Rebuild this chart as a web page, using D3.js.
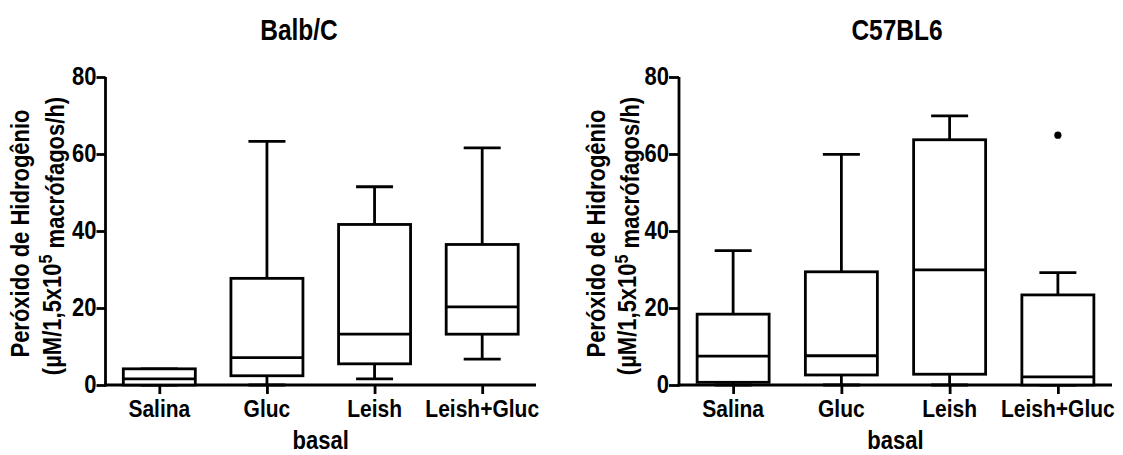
<!DOCTYPE html>
<html>
<head>
<meta charset="utf-8">
<script src="https://cdn.jsdelivr.net/npm/d3@7"></script>
<style>
  html, body { margin: 0; padding: 0; background: #fff; }
  svg { display: block; }
  text { font-family: "Liberation Sans", Arial, Helvetica, sans-serif; font-weight: bold; fill: #000; }
</style>
</head>
<body>
<svg id="chart" width="1123" height="455"></svg>
<script>
// Group labels (x axis)
const categories = ["Salina", "Gluc", "Leish", "Leish+Gluc"];
const yTicks = [0, 20, 40, 60, 80];

// Balb/C: five-number summaries per group
const balbMin    = [0,   0,    1.6,  6.7];
const balbQ1     = [0,   2.4,  5.5,  13.2];
const balbMedian = [1.6, 7.1,  13.2, 20.3];
const balbQ3     = [4.2, 27.7, 41.7, 36.5];
const balbMax    = [4.2, 63.3, 51.5, 61.6];
const balbOutliers = [[], [], [], []];

// C57BL6: five-number summaries per group
const c57Min    = [0,    0,    0,    0];
const c57Q1     = [0.7,  2.6,  2.8,  0];
const c57Median = [7.5,  7.6,  29.9, 2.1];
const c57Q3     = [18.4, 29.4, 63.7, 23.4];
const c57Max    = [34.9, 59.9, 69.9, 29.2];
const c57Outliers = [[], [], [], [64.9]];

const svg = d3.select("#chart");
const K = 1.17;          // vertical stretch of the glyphs
const SW = 2.8;          // line weight

function addText(g, str, x, y, size, opts = {}) {
  const rot = opts.rotate ? ` rotate(${opts.rotate})` : "";
  return g.append("text")
    .attr("transform", `translate(${x},${y})${rot} scale(1,${K})`)
    .attr("text-anchor", opts.anchor || "middle")
    .style("font-size", size + "px")
    .text(str);
}

function panel(cfg) {
  const g = svg.append("g");
  const y = d3.scaleLinear().domain([0, 80]).range([385, 77]);
  const x = d3.scalePoint().domain(categories).range([cfg.x0, cfg.x1]).padding(0.5);
  const boxW = 72, capW = 37;

  // axes
  const yAxis = d3.axisLeft(y).tickValues(yTicks).tickSize(cfg.tick).tickPadding(0);
  const ya = g.append("g").attr("transform", `translate(${cfg.x0},0)`).call(yAxis);
  const xAxis = d3.axisBottom(x).tickSize(9).tickFormat("");
  const xa = g.append("g").attr("transform", `translate(0,${y(0)})`).call(xAxis);
  [ya, xa].forEach(a => {
    a.select(".domain").remove();
    a.selectAll("line").attr("stroke", "#000").attr("stroke-width", SW);
  });
  ya.selectAll(".tick text")
    .attr("x", null).attr("dy", null)
    .attr("transform", `translate(${-cfg.tick},7.5) scale(1,${K})`)
    .attr("text-anchor", "end")
    .style("font-size", "22px").style("font-family", null);
  g.append("line").attr("x1", cfg.x0).attr("x2", cfg.x0).attr("y1", y(80)).attr("y2", y(0) + 1.4)
    .attr("stroke", "#000").attr("stroke-width", SW);
  g.append("line").attr("x1", cfg.x0 - 1.4).attr("x2", cfg.x1).attr("y1", y(0)).attr("y2", y(0))
    .attr("stroke", "#000").attr("stroke-width", SW);

  // boxes
  const rows = categories.map((c, i) => ({
    c, min: cfg.min[i], q1: cfg.q1[i], med: cfg.med[i], q3: cfg.q3[i], max: cfg.max[i], out: cfg.out[i]
  }));
  const bx = g.append("g").attr("stroke", "#000").attr("stroke-width", SW).attr("fill", "none");
  rows.forEach(r => {
    const cx = x(r.c);
    // whiskers
    bx.append("line").attr("x1", cx).attr("x2", cx).attr("y1", y(r.q3)).attr("y2", y(r.max));
    bx.append("line").attr("x1", cx).attr("x2", cx).attr("y1", y(r.q1)).attr("y2", y(r.min));
    bx.append("line").attr("x1", cx - capW / 2).attr("x2", cx + capW / 2).attr("y1", y(r.max)).attr("y2", y(r.max));
    bx.append("line").attr("x1", cx - capW / 2).attr("x2", cx + capW / 2).attr("y1", y(r.min)).attr("y2", y(r.min));
    // box
    bx.append("rect").attr("x", cx - boxW / 2).attr("width", boxW)
      .attr("y", y(r.q3)).attr("height", y(r.q1) - y(r.q3)).attr("fill", "#fff");
    bx.append("line").attr("x1", cx - boxW / 2).attr("x2", cx + boxW / 2).attr("y1", y(r.med)).attr("y2", y(r.med));
    r.out.forEach(v => {
      g.append("circle").attr("cx", cx).attr("cy", y(v)).attr("r", 3.6).attr("fill", "#000");
    });
  });

  // labels
  categories.forEach(c => addText(g, c, x(c), 416.5, 21));
  addText(g, "basal", (cfg.x0 + cfg.x1) / 2, 449, 22);
  addText(g, cfg.title, cfg.titleX, 39.5, 24.5);

  addText(g, "Peróxido de Hidrogênio", cfg.lab1, 233.5, 22, { rotate: -90 });
  const l2 = addText(g, "", cfg.lab2, 236, 22, { rotate: -90 });
  l2.append("tspan").text("(µM/1,5x10");
  l2.append("tspan").attr("dy", "-0.45em").style("font-size", "16px").text("5");
  l2.append("tspan").attr("dy", "0.45em").text(" macrófagos/h)");
}

panel({
  x0: 105.5, x1: 536, tick: 9, titleX: 299, title: "Balb/C", lab1: 28.5, lab2: 60.5,
  min: balbMin, q1: balbQ1, med: balbMedian, q3: balbQ3, max: balbMax, out: balbOutliers
});
panel({
  x0: 679, x1: 1112, tick: 10, titleX: 897, title: "C57BL6", lab1: 604.5, lab2: 636,
  min: c57Min, q1: c57Q1, med: c57Median, q3: c57Q3, max: c57Max, out: c57Outliers
});
</script>
</body>
</html>
